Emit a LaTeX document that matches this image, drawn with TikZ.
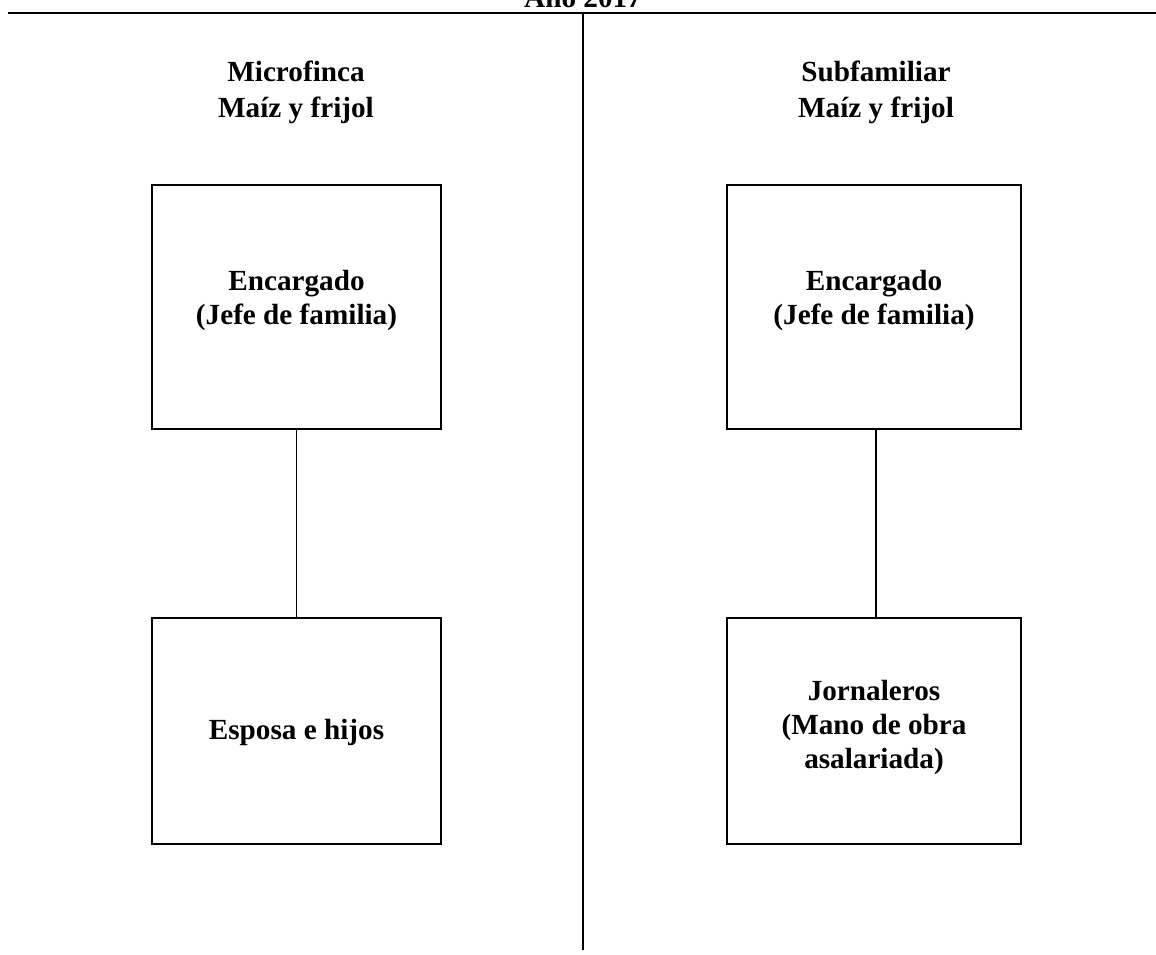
\documentclass[tikz,border=0pt]{standalone}
\usepackage{fontspec}
\setmainfont{Liberation Serif}
\usepackage{tikz}

\tikzset{
  caja/.style={draw, line width=0.9pt, inner sep=0pt},
  texto/.style={align=center, anchor=base, font=\bfseries\fontsize{14.6}{17}\selectfont},
  rotulo/.style={align=center, anchor=base, font=\bfseries\fontsize{14.6}{18}\selectfont},
  linea/.style={line width=0.9pt}
}

\begin{document}
\begin{tikzpicture}[x=0.5pt, y=-0.5pt]
\useasboundingbox (0,0) rectangle (1156,954);

\node[rotulo] (anio) at (583,7) {Año 2017};
\coordinate (izq) at (8,13);
\coordinate (der) at (1156,13);
\coordinate (arriba) at (583,13);
\coordinate (abajo) at (583,950);
\draw[linea] (izq) -- (der);
\draw[linea] (arriba) -- (abajo);

% base = baseline of the last line
\node[rotulo] (micro) at (296,117) {Microfinca\\Maíz y frijol};
\node[rotulo] (subfam) at (876,117) {Subfamiliar\\Maíz y frijol};

\node[caja, minimum width=144.5pt, minimum height=122pt] (enc1) at (296.5,307) {};
\node[caja, minimum width=144.5pt, minimum height=113pt] (esp) at (296.5,731) {};
\node[caja, minimum width=147pt, minimum height=122pt] (enc2) at (874,307) {};
\node[caja, minimum width=147pt, minimum height=113pt] (jor) at (874,731) {};

\node[texto] (t1) at (296.5,324) {Encargado\\(Jefe de familia)};
\node[texto] (t2) at (296.5,739) {Esposa e hijos};
\node[texto] (t3) at (874,324) {Encargado\\(Jefe de familia)};
\node[texto] (t4) at (874,768) {Jornaleros\\(Mano de obra\\asalariada)};

\draw[linea] (enc1.south) -- (esp.north);
\draw[linea] (enc2.south -| subfam) -- (jor.north -| subfam);
\end{tikzpicture}
\end{document}
